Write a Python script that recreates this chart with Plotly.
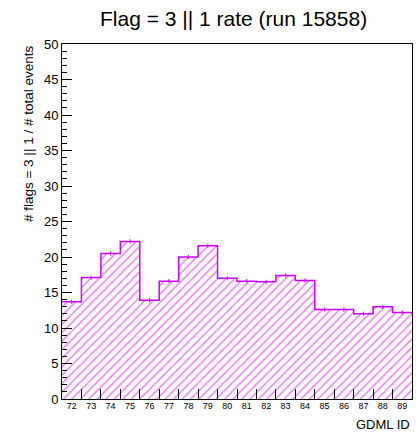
import plotly.graph_objects as go

ids = list(range(72, 90))
tick_labels = [str(i) for i in ids]
rates = [13.7, 17.1, 20.5, 22.2, 13.9, 16.6, 20.0, 21.6, 17.0, 16.6,
         16.5, 17.4, 16.7, 12.6, 12.6, 12.0, 13.0, 12.2]
errors = [0.3] * len(ids)

title_text = "Flag = 3 || 1 rate (run 15858)"
y_title = "# flags = 3 || 1 / # total events"
x_title = "GDML ID"

col = "#cc00ff"
font = "Liberation Sans, Arial, sans-serif"

edges = [i - 0.5 for i in ids] + [ids[-1] + 0.5]
step_y = rates + [rates[-1]]

fig = go.Figure()
fig.add_trace(go.Bar(
    x=ids, y=rates, width=1.0,
    marker=dict(color="white", line=dict(width=0),
                pattern=dict(shape="/", fgcolor=col, bgcolor="white",
                             size=6, solidity=0.25)),
    showlegend=False, hoverinfo="skip"))
fig.add_trace(go.Scatter(
    x=edges, y=step_y, mode="lines", line=dict(color=col, width=1.5, shape="hv"),
    showlegend=False, hoverinfo="skip"))
fig.add_trace(go.Scatter(
    x=ids, y=rates, mode="markers",
    marker=dict(size=1, color=col),
    error_y=dict(type="data", array=errors, color=col, thickness=1, width=0),
    showlegend=False, hoverinfo="skip"))
fig.add_trace(go.Scatter(x=[ids[0]], y=[None], xaxis="x2", showlegend=False,
                         hoverinfo="skip"))

fig.update_layout(
    width=419, height=434,
    margin=dict(l=62, r=7, t=44, b=35),
    paper_bgcolor="white", plot_bgcolor="white",
    font=dict(family=font, color="black"),
    bargap=0,
    xaxis=dict(range=[edges[0], edges[-1]], tickvals=edges[1:-1],
               showticklabels=False, ticks="inside", ticklen=10, tickcolor="black",
               showline=True, linecolor="black", linewidth=1, mirror=True,
               showgrid=False, zeroline=False),
    xaxis2=dict(range=[edges[0], edges[-1]], overlaying="x", side="bottom",
                tickvals=ids, ticktext=tick_labels, ticks="",
                tickfont=dict(size=9, family=font), showgrid=False,
                zeroline=False, showline=False),
    yaxis=dict(range=[0, 50], dtick=5, ticks="inside", ticklen=10, tickcolor="black",
               tickfont=dict(size=13, family=font),
               minor=dict(dtick=1, ticks="inside", ticklen=5, tickcolor="black"),
               showline=True, linecolor="black", linewidth=1, mirror=True,
               showgrid=False, zeroline=False),
    annotations=[
        dict(text=title_text, xref="paper", yref="paper", x=0.49, y=1.0,
             yshift=26, xanchor="center", yanchor="middle", showarrow=False,
             font=dict(size=21, family=font)),
        dict(text=y_title, xref="paper", yref="paper", x=-0.097, y=1.0,
             xanchor="center", yanchor="top", textangle=-90, showarrow=False,
             font=dict(size=13.5, family=font)),
        dict(text=x_title, xref="paper", yref="paper", x=1.0, y=0,
             yshift=-25, xanchor="right", yanchor="middle", showarrow=False,
             font=dict(size=13, family=font)),
    ],
)

fig.write_html("out.html", config={"displayModeBar": False})
with open("out.html", encoding="utf-8") as f:
    html = f.read()
html = html.replace("<head>", "<head><style>html,body{margin:0;padding:0;overflow:hidden;}</style>", 1)
with open("out.html", "w", encoding="utf-8") as f:
    f.write(html)
